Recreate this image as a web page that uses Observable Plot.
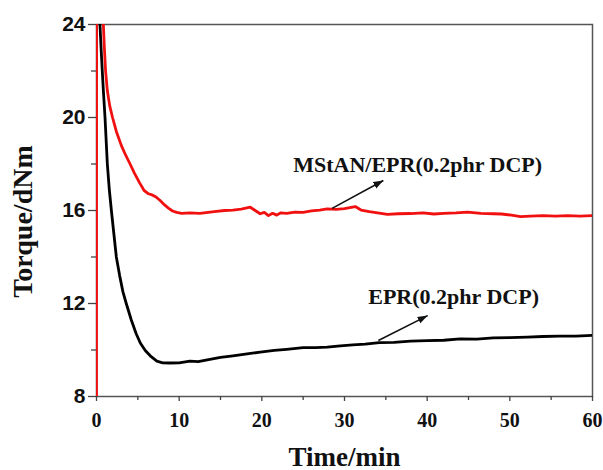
<!DOCTYPE html>
<html>
<head>
<meta charset="utf-8">
<script src="https://cdn.jsdelivr.net/npm/d3@7"></script>
<script src="https://cdn.jsdelivr.net/npm/@observablehq/plot@0.6"></script>
<style>
  html, body { margin: 0; padding: 0; background: #fff; }
  #chart { width: 603px; height: 470px; }
</style>
</head>
<body>
<div id="chart"></div>
<script>
// ---- Data ----
const mstanTime = [0, 0.02, 0.6, 0.83, 0.95, 1.1, 1.31, 1.6, 1.94, 2.4, 3.0, 3.5, 4.06, 4.6, 5.2, 5.76, 6.3, 6.8, 7.2, 7.7, 8.2, 8.7, 9.2, 9.7, 10.3, 11.3, 12.5, 13.5, 14.5, 15.5, 16.5, 17.5, 18.6, 19.2, 19.8, 20.3, 20.8, 21.3, 21.8, 22.3, 23, 24, 25, 26, 27, 27.9, 29, 30, 31.3, 32, 33, 34, 35.2, 36.5, 38, 39.5, 40.8, 42, 43.5, 44.9, 46.5, 48, 49, 50.2, 51.3, 52.5, 54, 55.5, 57, 58.5, 60];
const mstanTorque = [7, 40, 28, 24, 23.0, 22.0, 21.16, 20.5, 20.0, 19.4, 18.8, 18.4, 18.0, 17.6, 17.2, 16.86, 16.72, 16.66, 16.58, 16.43, 16.25, 16.1, 15.98, 15.92, 15.88, 15.9, 15.88, 15.92, 15.96, 16.0, 16.02, 16.06, 16.14, 16.0, 15.86, 15.92, 15.78, 15.88, 15.8, 15.9, 15.88, 15.93, 15.92, 15.98, 16.02, 16.07, 16.05, 16.08, 16.17, 16.02, 15.95, 15.9, 15.83, 15.86, 15.87, 15.9, 15.85, 15.88, 15.9, 15.93, 15.88, 15.86, 15.85, 15.8, 15.74, 15.76, 15.78, 15.76, 15.78, 15.76, 15.78];

const eprTime = [0.25, 0.42, 0.55, 0.7, 0.83, 1.03, 1.31, 1.55, 1.8, 2.1, 2.4, 2.8, 3.2, 3.6, 4.2, 4.8, 5.3, 5.9, 6.5, 7.3, 8.0, 8.9, 10, 11.3, 12.3, 13.4, 15, 16.5, 18, 19.8, 21.5, 23, 25, 26.5, 27.9, 29.5, 31, 32.5, 34.2, 36, 38, 40, 42, 44, 46, 48, 50, 52.1, 54, 56, 58, 60];
const eprTorque = [30, 24, 23.0, 22.0, 21.16, 20.0, 18.0, 16.9, 16.0, 15.0, 14.0, 13.2, 12.5, 12.0, 11.3, 10.7, 10.3, 9.98, 9.75, 9.52, 9.45, 9.44, 9.45, 9.52, 9.5, 9.58, 9.68, 9.75, 9.82, 9.91, 9.98, 10.03, 10.1, 10.1, 10.12, 10.18, 10.22, 10.25, 10.32, 10.33, 10.38, 10.4, 10.42, 10.48, 10.47, 10.52, 10.53, 10.55, 10.58, 10.6, 10.6, 10.63];

const xMajorTicks = [0, 10, 20, 30, 40, 50, 60];
const xMinorTicks = [5, 15, 25, 35, 45, 55];
const yMajorTicks = [8, 12, 16, 20, 24];
const yMinorTicks = [10, 14, 18, 22];

const labelNames = ["MStAN/EPR(0.2phr DCP)", "EPR(0.2phr DCP)"];
const labelTime = [38.85, 43.2];
const labelTorque = [17.98, 12.27];
const arrowTime1 = [28.5, 34.1];
const arrowTorque1 = [16.09, 10.41];
const arrowTime2 = [34.7, 40.06];
const arrowTorque2 = [17.29, 11.48];

const xTitle = "Time/min";
const yTitle = "Torque/dNm";

// ---- Build tables ----
const mstan = mstanTime.map((t, i) => ({t, v: mstanTorque[i]}));
const epr = eprTime.map((t, i) => ({t, v: eprTorque[i]}));
const notes = labelNames.map((name, i) => ({
  name, x: labelTime[i], y: labelTorque[i],
  x1: arrowTime1[i], y1: arrowTorque1[i], x2: arrowTime2[i], y2: arrowTorque2[i]
}));

const serif = "'Liberation Serif', 'Times New Roman', Times, serif";
const sans = "'Liberation Sans', Arial, Helvetica, sans-serif";

// filled triangular arrowhead marker
function filledHead(color, context) {
  const doc = (context && context.document) || document;
  const ns = "http://www.w3.org/2000/svg";
  const m = doc.createElementNS(ns, "marker");
  m.setAttribute("viewBox", "-10 -5 10 10");
  m.setAttribute("markerWidth", "10");
  m.setAttribute("markerHeight", "10");
  m.setAttribute("markerUnits", "userSpaceOnUse");
  m.setAttribute("orient", "auto");
  m.setAttribute("refX", "0");
  m.setAttribute("refY", "0");
  const p = doc.createElementNS(ns, "path");
  p.setAttribute("d", "M-10,-3.6L0,0L-10,3.6Z");
  p.setAttribute("fill", color);
  p.setAttribute("stroke", "none");
  m.appendChild(p);
  return m;
}

const chart = Plot.plot({
  width: 603,
  height: 470,
  marginLeft: 96,
  marginRight: 11,
  marginTop: 24,
  marginBottom: 74,
  style: {background: "#fff"},
  x: {domain: [0, 60]},
  y: {domain: [8, 24]},
  marks: [
    Plot.frame({stroke: "#555", strokeWidth: 1.5}),
    Plot.axisY({ticks: yMajorTicks, tickSize: 8, tickPadding: 3, stroke: "#444", strokeWidth: 1.3,
      fontSize: 21, fontFamily: sans, fontWeight: "bold", fill: "#111", label: null}),
    Plot.axisY({ticks: yMinorTicks, tickSize: 5, stroke: "#444", strokeWidth: 1.3, tickFormat: () => "", label: null}),
    Plot.axisX({ticks: xMajorTicks, tickSize: 5, tickPadding: 11, stroke: "#444", strokeWidth: 1.3,
      fontSize: 20, fontFamily: serif, fontWeight: "bold", fill: "#111", label: null}),
    Plot.axisX({ticks: xMinorTicks, tickSize: 4, stroke: "#444", strokeWidth: 1.3, tickFormat: () => "", label: null}),
    Plot.line(mstan, {x: "t", y: "v", stroke: "#f01010", strokeWidth: 2.8, clip: true}),
    Plot.line(epr, {x: "t", y: "v", stroke: "#000", strokeWidth: 2.8, clip: true}),
    Plot.link(notes, {x1: "x1", y1: "y1", x2: "x2", y2: "y2", stroke: "#111", strokeWidth: 1.6,
      markerEnd: filledHead}),
    Plot.text(notes, {x: "x", y: "y", text: "name", fontFamily: serif, fontWeight: "bold",
      fontSize: 22, fill: "#111", textAnchor: "middle", lineAnchor: "middle"}),
    Plot.text([xTitle], {frameAnchor: "bottom", dy: 69, textAnchor: "middle", lineAnchor: "bottom",
      fontFamily: serif, fontWeight: "bold", fontSize: 27, fill: "#111"}),
    Plot.text([yTitle], {frameAnchor: "left", dx: -73, dy: 11, rotate: -90, textAnchor: "middle",
      lineAnchor: "middle", fontFamily: serif, fontWeight: "bold", fontSize: 28, fill: "#111"})
  ]
});

document.getElementById("chart").appendChild(chart);
</script>
</body>
</html>
